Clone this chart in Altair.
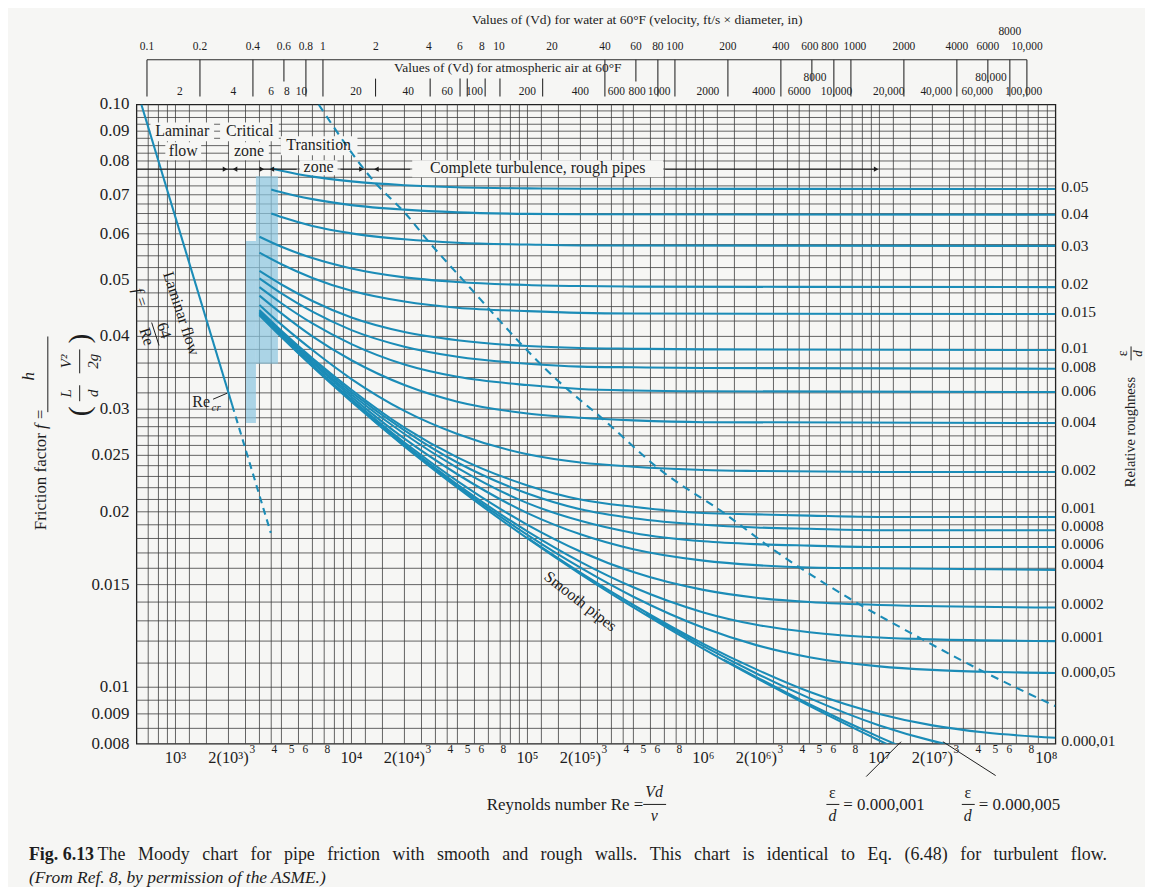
import json
import altair as alt
import pandas as pd

# ---------------- data ----------------
re_a = [3500, 4000, 6000, 1e4, 2e4, 4e4, 1e5, 2e5, 1e8]
f_005 = [0.0777, 0.0770, 0.0752, 0.0738, 0.0727, 0.0721, 0.0718, 0.0717, 0.0716]
f_004 = [0.0715, 0.0707, 0.0688, 0.0672, 0.0660, 0.0653, 0.0649, 0.0648, 0.0647]
f_003 = [0.0650, 0.0641, 0.0619, 0.0601, 0.0587, 0.0579, 0.0575, 0.0573, 0.0572]
re_b = [3000, 4000, 6000, 1e4, 2e4, 4e4, 1e5, 2e5, 4e5, 1e8]
f_002 = [0.0593, 0.0570, 0.0545, 0.0523, 0.0505, 0.0496, 0.0490, 0.0488, 0.0487, 0.0486]
f_0015 = [0.0557, 0.0532, 0.0504, 0.0479, 0.0459, 0.0448, 0.0442, 0.0439, 0.0438, 0.0437]
re_c = [3000, 4000, 6000, 1e4, 2e4, 4e4, 1e5, 2e5, 4e5, 1e6, 1e8]
f_001 = [0.0518, 0.0491, 0.0460, 0.0431, 0.0407, 0.0394, 0.0385, 0.0382, 0.0381, 0.0380, 0.0379]
f_0008 = [0.0503, 0.0474, 0.0441, 0.0410, 0.0384, 0.0369, 0.0359, 0.0355, 0.0354, 0.0353, 0.0352]
f_0006 = [0.0486, 0.0456, 0.0421, 0.0388, 0.0358, 0.0341, 0.0330, 0.0325, 0.0323, 0.0322, 0.0321]
f_0004 = [0.0470, 0.0438, 0.0400, 0.0364, 0.0330, 0.0309, 0.0295, 0.0290, 0.0287, 0.0285, 0.0284]
re_d = [3000, 4000, 6000, 1e4, 2e4, 4e4, 1e5, 2e5, 4e5, 1e6, 2e6, 1e7, 1e8]
f_0002 = [0.0453, 0.0419, 0.0379, 0.0338, 0.0298, 0.0272, 0.0251, 0.0243, 0.0239, 0.0236, 0.0235, 0.0234, 0.0234]
re_e = [3000, 4000, 6000, 1e4, 2e4, 4e4, 1e5, 2e5, 4e5, 1e6, 2e6, 4e6, 1e7, 1e8]
f_0001 = [0.0444, 0.0409, 0.0367, 0.0324, 0.0279, 0.0248, 0.0222, 0.0210, 0.0204, 0.0199, 0.0198, 0.0197, 0.0196, 0.0196]
f_00008 = [0.0442, 0.0407, 0.0365, 0.0321, 0.0276, 0.0243, 0.0215, 0.0202, 0.0195, 0.0190, 0.0188, 0.0187, 0.0186, 0.0186]
f_00006 = [0.0440, 0.0405, 0.0362, 0.0318, 0.0272, 0.0238, 0.0207, 0.0193, 0.0184, 0.0178, 0.0176, 0.0175, 0.0174, 0.0174]
f_00004 = [0.0439, 0.0403, 0.0360, 0.0315, 0.0267, 0.0232, 0.0199, 0.0183, 0.01725, 0.01649, 0.0162, 0.01605, 0.0160, 0.0159]
f_00002 = [0.0437, 0.0401, 0.0357, 0.0312, 0.0263, 0.02258, 0.0190, 0.0171, 0.01576, 0.01469, 0.01424, 0.0140, 0.01384, 0.0137]
re_f = [3000, 4000, 6000, 1e4, 2e4, 4e4, 1e5, 2e5, 4e5, 1e6, 2e6, 4e6, 1e7, 2e7, 1e8]
f_00001 = [0.0436, 0.0400, 0.0356, 0.0310, 0.0261, 0.02228, 0.01851, 0.01641, 0.01484, 0.01344, 0.0128, 0.01243, 0.01217, 0.01208, 0.0120]
re_g = [1.3e4, 2e4, 4e4, 1e5, 2e5, 4e5, 1e6, 2e6, 4e6, 1e7, 2e7, 4e7, 1e8]
f_000005 = [0.0289, 0.0260, 0.02213, 0.01826, 0.01604, 0.0143, 0.01265, 0.01181, 0.01126, 0.01086, 0.01071, 0.01063, 0.01058]
re_h = [1e5, 2e5, 4e5, 1e6, 2e6, 4e6, 1e7, 2e7, 4e7, 1e8]
f_000001 = [0.01805, 0.01573, 0.01384, 0.01187, 0.01073, 0.00982, 0.00900, 0.00860, 0.00836, 0.00819]
re_i = [4.7e5, 1e6, 2e6, 4e6, 1e7, 2e7, 2.5e7]
f_0000005 = [0.01338, 0.01176, 0.01056, 0.00958, 0.0086, 0.00809, 0.00796]
re_j = [1.3e6, 2e6, 4e6, 1e7, 1.3e7]
f_0000001 = [0.01115, 0.01041, 0.00935, 0.00821, 0.00793]
re_s = [3000, 4000, 6000, 1e4, 2e4, 4e4, 1e5, 2e5, 4e5, 1e6, 2e6, 4e6, 1e7, 1.2e7]
f_smooth = [0.0435, 0.0399, 0.0355, 0.0309, 0.0259, 0.0220, 0.0180, 0.01564, 0.01371, 0.01164, 0.01037, 0.00929, 0.0081, 0.00789]

lam_re = [640, 2100]
lam_f = [0.1, 0.0305]
lam_dash_re = [2100, 3480]
lam_dash_f = [0.0305, 0.0184]

bnd_re = [6510, 13700, 20200, 27300, 42000, 148600, 274000, 569000, 1.31e6, 2.51e6, 7.41e6, 1.56e7, 3.68e7, 1e8]
bnd_f = [0.1, 0.0733, 0.0651, 0.0583, 0.0504, 0.0336, 0.0287, 0.0236, 0.0199, 0.0172, 0.01397, 0.01232, 0.01073, 0.00928]

zone_re1 = [2866, 2515]
zone_re2 = [3822, 2866]
zone_f1 = [0.0359, 0.0284]
zone_f2 = [0.0753, 0.0583]

rough_labels = ["0.05", "0.04", "0.03", "0.02", "0.015", "0.01", "0.008", "0.006", "0.004",
                "0.002", "0.001", "0.0008", "0.0006", "0.0004", "0.0002", "0.0001",
                "0.000,05", "0.000,01"]
rough_label_f = [0.0721, 0.0650, 0.0571, 0.0491, 0.0441, 0.0382, 0.0355, 0.0322, 0.0285,
                 0.0236, 0.0203, 0.0189, 0.0176, 0.0163, 0.0139, 0.0122, 0.0106, 0.00808]

big_tick_re = [1e3, 2e3, 1e4, 2e4, 1e5, 2e5, 1e6, 2e6, 1e7, 2e7]
big_tick_lab = ["10³", "2(10³)", "10⁴", "2(10⁴)", "10⁵", "2(10⁵)", "10⁶", "2(10⁶)", "10⁷", "2(10⁷)"]
small_tick_re = [3e3, 4e3, 5e3, 6e3, 8e3, 3e4, 4e4, 5e4, 6e4, 8e4, 3e5, 4e5, 5e5, 6e5, 8e5,
                 3e6, 4e6, 5e6, 6e6, 8e6, 3e7, 4e7, 5e7, 6e7, 8e7]
small_tick_lab = ["3", "4", "5", "6", "8"] * 5

water_vd = [0.1, 0.2, 0.4, 0.6, 0.8, 1, 2, 4, 6, 8, 10, 20, 40, 60, 80, 100, 200, 400, 600, 800,
            1000, 2000, 4000, 6000, 10000]
water_lab = ["0.1", "0.2", "0.4", "0.6", "0.8", "1", "2", "4", "6", "8", "10", "20", "40", "60", "80",
             "100", "200", "400", "600", "800", "1000", "2000", "4000", "6000", "10,000"]
water_hi_vd = [8000]
water_hi_lab = ["8000"]
water_long = [0.1, 0.2, 0.4, 0.8, 1, 40, 80, 100, 200, 400, 800, 1000, 2000, 4000, 8000, 10000]
water_short = [0.6, 60, 600, 6000]
air_lab_re = [1.06e3, 2.13e3, 3.5e3, 4.3e3, 5.2e3, 1.06e4, 2.1e4, 3.5e4, 5.0e4, 1.0e5, 2.0e5,
              3.2e5, 4.2e5, 5.6e5, 1.06e6, 2.2e6, 3.5e6, 5.7e6, 1.13e7, 2.1e7, 3.6e7, 6.6e7]
air_lab = ["2", "4", "6", "8", "10", "20", "40", "60", "100", "200", "400", "600", "800", "1000",
           "2000", "4000", "6000", "10,000", "20,000", "40,000", "60,000", "100,000"]
air_hi_re = [4.3e6, 4.3e7]
air_hi_lab = ["8000", "80,000"]
air_tick_re = [13700, 28000, 41400, 45500, 57500, 69800, 122000]
WATER_RE_PER_VD = 6887.0

y_label_vals = [0.008, 0.009, 0.01, 0.015, 0.02, 0.025, 0.03, 0.04, 0.05, 0.06, 0.07, 0.08, 0.09, 0.1]
y_label_txt = ["0.008", "0.009", "0.01", "0.015", "0.02", "0.025", "0.03", "0.04", "0.05", "0.06",
               "0.07", "0.08", "0.09", "0.10"]

caption_rest = ("The Moody chart for pipe friction with smooth and rough walls. "
                "This chart is identical to Eq. (6.48) for turbulent flow.")

# ---------------- layout & helpers ----------------
W, H = 923, 642
X0, Y0 = 137, 103
RE_MIN, RE_MAX = 600.0, 1e8
F_MIN, F_MAX = 0.008, 0.1
BLUE = "#1b8cb7"
INK = "#1d1d1d"
GRID = "#3e3e3e"
SERIF = "Liberation Serif"
BG = "#f6f6f4"
# horizontal nudges (px) for crowded water labels
water_nudge = {"600": -2, "800": -4, "1000": 4}


def px2re(px):
    return RE_MIN * (RE_MAX / RE_MIN) ** ((px - X0) / W)


def py2f(py):
    return F_MAX * (F_MIN / F_MAX) ** ((py - Y0) / H)


def nudge_re(re, dpx):
    return re * (RE_MAX / RE_MIN) ** (dpx / W)


xs = alt.Scale(type="log", domain=[RE_MIN, RE_MAX], nice=False)
ys = alt.Scale(type="log", domain=[F_MIN, F_MAX], nice=False)
X_NOAX = dict(scale=xs, axis=None)
Y_NOAX = dict(scale=ys, axis=None)

grid_x = []
for dec in [100, 1e3, 1e4, 1e5, 1e6, 1e7]:
    for m in [1, 1.2, 1.5, 2, 2.5, 3, 3.5, 4, 5, 6, 7, 8, 9]:
        v = float(f"{m * dec:.6g}")
        if RE_MIN < v < RE_MAX:
            grid_x.append(v)

grid_y = set()
for a, n, st in [(0.008, 5, 0.0005), (0.01, 21, 0.001), (0.03, 6, 0.002), (0.04, 25, 0.0025)]:
    for i in range(n):
        v = round(a + i * st, 5)
        if F_MIN < v < F_MAX:
            grid_y.add(v)
grid_y = sorted(grid_y)


def texts(rows, align="center", style="normal", weight="normal", dx=0, dy=0, baseline="middle"):
    df = pd.DataFrame(rows, columns=["re", "f", "text", "fs", "ang"])
    return alt.Chart(df).mark_text(
        align=align, baseline=baseline, fontStyle=style, fontWeight=weight,
        font=SERIF, color=INK, dx=dx, dy=dy
    ).encode(
        x=alt.X("re:Q", **X_NOAX), y=alt.Y("f:Q", **Y_NOAX), text="text:N",
        size=alt.Size("fs:Q", scale=None, legend=None),
        angle=alt.Angle("ang:Q", scale=None, legend=None),
    )


def prow(px, py, text, fs, ang=0):
    return (px2re(px), py2f(py), text, fs, ang)


def rules(rows, color=INK, width=1.0, dash=None):
    df = pd.DataFrame(rows, columns=["re1", "f1", "re2", "f2"])
    kw = dict(color=color, strokeWidth=width)
    if dash:
        kw["strokeDash"] = dash
    return alt.Chart(df).mark_rule(**kw).encode(
        x=alt.X("re1:Q", **X_NOAX), x2="re2:Q", y=alt.Y("f1:Q", **Y_NOAX), y2="f2:Q")


def prule(x1, y1, x2, y2):
    return (px2re(x1), py2f(y1), px2re(x2), py2f(y2))


TW = {" ": 250, ".": 250, ",": 250, "(": 333, ")": 333, "T": 611, "M": 889, "E": 611}
TW.update({c: 500 for c in "0123456789bdghknopquvxy"})
TW.update({"a": 444, "c": 444, "e": 444, "z": 444, "f": 333, "r": 333, "i": 278, "j": 278,
           "l": 278, "t": 278, "s": 389, "m": 778, "w": 722})


def word_w(w, fs):
    return sum(TW.get(c, 500) for c in w) * fs / 1000.0


# ---------------- grid ----------------
vgrid = rules([(v, F_MIN, v, F_MAX) for v in grid_x], color=GRID, width=0.8)
hgrid = rules([(RE_MIN, v, RE_MAX, v) for v in grid_y], color=GRID, width=0.8)

# ---------------- curves ----------------
curve_defs = [
    ("0.05", re_a, f_005), ("0.04", re_a, f_004), ("0.03", re_a, f_003),
    ("0.02", re_b, f_002), ("0.015", re_b, f_0015),
    ("0.01", re_c, f_001), ("0.008", re_c, f_0008), ("0.006", re_c, f_0006), ("0.004", re_c, f_0004),
    ("0.002", re_d, f_0002),
    ("0.001", re_e, f_0001), ("0.0008", re_e, f_00008), ("0.0006", re_e, f_00006),
    ("0.0004", re_e, f_00004), ("0.0002", re_e, f_00002),
    ("0.0001", re_f, f_00001), ("0.000,05", re_g, f_000005), ("0.000,01", re_h, f_000001),
    ("0.000,005", re_i, f_0000005), ("0.000,001", re_j, f_0000001), ("smooth", re_s, f_smooth),
]
rows = []
for name, rl, fl in curve_defs:
    for r, f in zip(rl, fl):
        rows.append({"curve": name, "Re": r, "f": f})
df_curves = pd.DataFrame(rows)

curves = alt.Chart(df_curves).mark_line(
    clip=True, interpolate="monotone", strokeWidth=2.1, color=BLUE
).encode(
    x=alt.X("Re:Q", **X_NOAX), y=alt.Y("f:Q", **Y_NOAX),
    detail="curve:N", order="Re:Q",
)

zones = alt.Chart(pd.DataFrame({"r1": zone_re1, "r2": zone_re2, "f1": zone_f1, "f2": zone_f2})).mark_rect(
    color="#8cc6e0", opacity=0.7
).encode(x=alt.X("r1:Q", **X_NOAX), x2="r2:Q", y=alt.Y("f1:Q", **Y_NOAX), y2="f2:Q")

laminar = alt.Chart(pd.DataFrame({"Re": lam_re, "f": lam_f})).mark_line(
    color=BLUE, strokeWidth=2.1, clip=True
).encode(x=alt.X("Re:Q", **X_NOAX), y=alt.Y("f:Q", **Y_NOAX))
laminar_d = alt.Chart(pd.DataFrame({"Re": lam_dash_re, "f": lam_dash_f})).mark_line(
    color=BLUE, strokeWidth=2.1, strokeDash=[7, 5]
).encode(x=alt.X("Re:Q", **X_NOAX), y=alt.Y("f:Q", **Y_NOAX))
boundary = alt.Chart(pd.DataFrame({"Re": bnd_re, "f": bnd_f})).mark_line(
    color=BLUE, strokeWidth=2.1, strokeDash=[8, 6], interpolate="monotone", clip=True
).encode(x=alt.X("Re:Q", **X_NOAX), y=alt.Y("f:Q", **Y_NOAX))

box_rows = [prule(151, 121, 215, 140), prule(166, 141, 202, 159), prule(221, 121, 280, 140),
            prule(230, 141, 270, 159), prule(282, 135, 359, 154), prule(301, 159, 339, 174),
            prule(414, 159, 666, 176)]
boxes = alt.Chart(pd.DataFrame(box_rows, columns=["r1", "f1", "r2", "f2"])).mark_rect(color=BG).encode(
    x=alt.X("r1:Q", **X_NOAX), x2="r2:Q", y=alt.Y("f1:Q", **Y_NOAX), y2="f2:Q")

arrow_line = rules([prule(137, 168, 298, 168), prule(342, 168, 412, 168), prule(668, 168, 880, 168)],
                   color=INK, width=1.1)
arr_r = alt.Chart(pd.DataFrame([prow(x, 168, "", 0) for x in [226, 263, 363, 880]],
                               columns=["re", "f", "t", "s", "a"])).mark_point(
    shape="triangle-right", filled=True, color=INK, size=28, opacity=1
).encode(x=alt.X("re:Q", **X_NOAX), y=alt.Y("f:Q", **Y_NOAX))
arr_l = alt.Chart(pd.DataFrame([prow(x, 168, "", 0) for x in [236, 273, 378]],
                               columns=["re", "f", "t", "s", "a"])).mark_point(
    shape="triangle-left", filled=True, color=INK, size=28, opacity=1
).encode(x=alt.X("re:Q", **X_NOAX), y=alt.Y("f:Q", **Y_NOAX))

# ---------------- annotations ----------------
zone_text = texts([
    prow(183, 130, "Laminar", 16), prow(184, 150, "flow", 16),
    prow(251, 130, "Critical", 16), prow(250, 150, "zone", 16),
    prow(320, 144, "Transition", 16), prow(320, 166, "zone", 16),
    prow(540, 167, "Complete turbulence, rough pipes", 16),
    prow(182, 313, "Laminar flow", 16, 72),
    prow(583, 602, "Smooth pipes", 16, 38),
    prow(164.6, 330, "64", 16, 72), prow(147.4, 336, "Re", 16, 72),
    prow(202, 402, "Re", 16),
])
ital = texts([prow(141, 297, "f =", 16, 72), prow(217, 408, "cr", 11)], style="italic")
lam_bar = rules([prule(152.3, 322, 159.7, 345), prule(214, 399, 228, 393)], width=1.0)

ylab = texts([(RE_MIN, v, t, 17, 0) for v, t in zip(y_label_vals, y_label_txt)], align="right", dx=-7)

water_text = texts(
    [(nudge_re(v * WATER_RE_PER_VD, water_nudge.get(l, 0)), py2f(45), l, 11.5, 0)
     for v, l in zip(water_vd, water_lab)]
    + [(v * WATER_RE_PER_VD, py2f(30), l, 11.5, 0) for v, l in zip(water_hi_vd, water_hi_lab)])
air_text = texts([(r, py2f(90), l, 11.5, 0) for r, l in zip(air_lab_re, air_lab)]
                 + [(r, py2f(76), l, 11.5, 0) for r, l in zip(air_hi_re, air_hi_lab)])
top_titles = texts([
    prow(640, 18, "Values of (Vd) for water at 60°F (velocity, ft/s × diameter, in)", 13.5),
    prow(510, 66, "Values of (Vd) for atmospheric air at 60°F", 13.5),
])
top_rules = rules(
    [(v * WATER_RE_PER_VD, py2f(58), v * WATER_RE_PER_VD, py2f(95)) for v in water_long]
    + [(v * WATER_RE_PER_VD, py2f(58), v * WATER_RE_PER_VD, py2f(80)) for v in water_short]
    + [(r, py2f(77), r, py2f(95)) for r in air_tick_re]
    + [(water_long[0] * WATER_RE_PER_VD, py2f(58), water_long[-1] * WATER_RE_PER_VD, py2f(58))],
    color="#2a2a2a", width=1.1)

big_lab = texts([(r, py2f(759), l, 16.5, 0) for r, l in zip(big_tick_re, big_tick_lab)])
big_lab8 = texts([(RE_MAX, py2f(759), "10⁸", 16.5, 0)], dx=-9)
small_lab = texts([(r, py2f(751), l, 11.5, 0) for r, l in zip(small_tick_re, small_tick_lab)], dx=-7)

bottom_r = texts([prow(646, 807, "Reynolds number Re =", 17)], align="right")
bottom_l = texts([prow(847, 807, "= 0.000,001", 17), prow(983, 807, "= 0.000,005", 17)], align="left")
bottom_c = texts([prow(836, 795, "ε", 16), prow(972, 795, "ε", 16)])
bottom_i = texts([prow(657, 794, "Vd", 16), prow(657, 818, "ν", 16),
                  prow(836, 818, "d", 16), prow(972, 818, "d", 16)], style="italic")
bottom_rules = rules([prule(646, 806, 669, 806), prule(830, 806, 843, 806), prule(966, 806, 979, 806),
                      prule(870, 778, 905, 743), prule(1000, 777, 947, 743)], width=1.0)

rough_text = texts([(RE_MAX, fv, lab, 15.5, 0) for lab, fv in zip(rough_labels, rough_label_f)],
                   align="left", dx=6)
right_title = texts([prow(1136, 432, "Relative roughness", 14.5, 270), prow(1128, 353, "ε", 14, 270)])
right_i = texts([prow(1143, 353, "d", 13, 270)], style="italic")
right_rule = rules([prule(1136, 346, 1136, 360)], width=1.0)

left_t = texts([prow(41, 433, "Friction factor", 17, 270)], align="right")
left_fi = texts([prow(41, 429, "f =", 17, 270)], align="left", style="italic")
left_frac = texts([prow(29, 376, "h", 17, 270), prow(66, 393, "L", 15, 270), prow(93, 393, "d", 15, 270),
                   prow(66, 361, "V²", 15, 270), prow(93, 361, "2g", 15, 270)], style="italic")
left_par = texts([prow(80, 411, "(", 30, 270), prow(80, 338, ")", 30, 270)])
left_rules = rules([prule(48, 336, 48, 412), prule(80, 385, 80, 401), prule(80, 349, 80, 373)], width=1.0)

CAP_FS = 18
words = caption_rest.split(" ")
nat = [word_w(w, CAP_FS) for w in words]
x_start, x_end = 98.0, 1113.0
gap = (x_end - x_start - sum(nat)) / (len(words) - 1)
cap_rows = []
xx = x_start
for w, wd in zip(words, nat):
    cap_rows.append(prow(xx, 857, w, CAP_FS))
    xx += wd + gap
cap_b = texts([prow(29, 857, "Fig. 6.13", CAP_FS)], align="left", weight="bold")
cap_r = texts(cap_rows, align="left")
cap_i = texts([prow(29, 880, "(From Ref. 8, by permission of the ASME.)", 17.5)], align="left", style="italic")

chart = alt.layer(
    vgrid, hgrid, zones, boxes, curves, laminar, laminar_d, boundary, arrow_line, arr_r, arr_l,
    zone_text, ital, lam_bar, ylab,
    water_text, air_text, top_titles, top_rules,
    big_lab, big_lab8, small_lab, bottom_r, bottom_l, bottom_c, bottom_i, bottom_rules,
    rough_text, right_title, right_i, right_rule,
    left_t, left_fi, left_frac, left_par, left_rules,
    cap_b, cap_r, cap_i,
).properties(
    width=W, height=H,
    autosize=alt.AutoSizeParams(type="none"),
    padding={"left": X0 - 8, "top": Y0 - 8, "right": 90, "bottom": 142},
    background=BG,
).configure_view(stroke="#222222", strokeWidth=1.3)

chart.save("out.html", embed_options={"renderer": "svg", "actions": False})
